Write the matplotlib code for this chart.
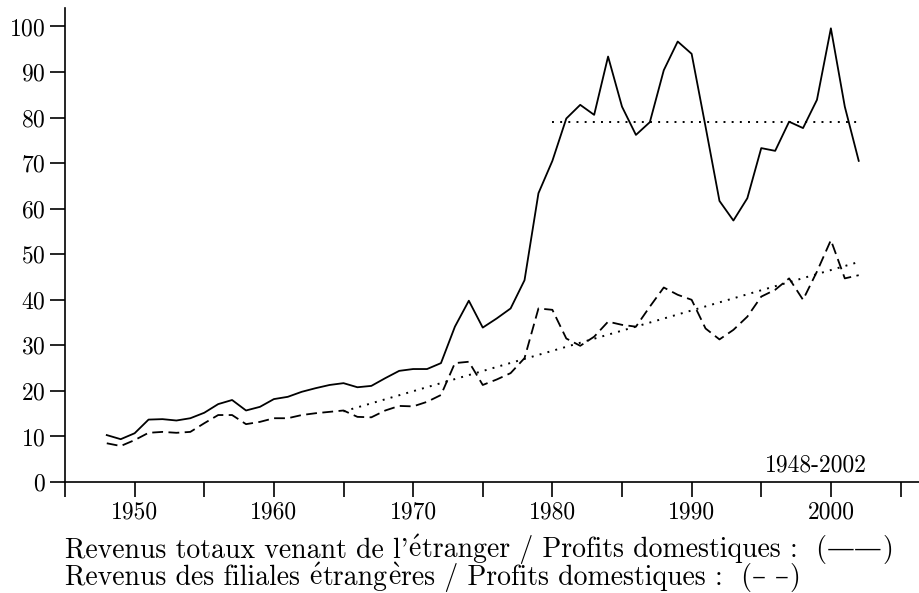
import matplotlib
matplotlib.use("Agg")
import matplotlib.pyplot as plt
import numpy as np

years = np.arange(1948, 2003)

# Revenus totaux venant de l'etranger / Profits domestiques (%)
total = [10.3, 9.4, 10.7, 13.7, 13.8, 13.5, 14.0, 15.2, 17.1, 18.0,
         15.7, 16.5, 18.2, 18.7, 19.8, 20.6, 21.3, 21.7, 20.8, 21.1,
         22.8, 24.4, 24.8, 24.8, 26.1, 34.1, 39.8, 33.9, 35.9, 38.1,
         44.3, 63.4, 70.5, 79.8, 82.8, 80.6, 93.4, 82.4, 76.2, 79.0,
         90.4, 96.7, 94.0, 78.0, 61.7, 57.4, 62.3, 73.3, 72.7, 79.1,
         77.7, 83.9, 99.6, 82.4, 70.5]

# Revenus des filiales etrangeres / Profits domestiques (%)
affiliates = [8.5, 7.9, 9.2, 10.8, 11.0, 10.8, 11.0, 12.9, 14.7, 14.7,
              12.7, 13.2, 14.0, 14.0, 14.7, 15.1, 15.4, 15.7, 14.3, 14.2,
              15.7, 16.7, 16.6, 17.6, 19.1, 26.1, 26.4, 21.3, 22.5, 23.9,
              27.2, 38.1, 37.8, 31.5, 29.9, 31.9, 35.2, 34.5, 34.1, 38.5,
              42.7, 41.1, 40.0, 33.7, 31.3, 33.4, 36.3, 40.7, 42.2, 44.7,
              40.0, 46.2, 53.1, 44.7, 45.4]

# reference lines
mean_years = [1980, 2002]
mean_level = [79.1, 79.1]
trend_years = [1965, 2002]
trend_level = [15.5, 48.3]

xticks = np.arange(1945, 2006, 5)
xlabels = [str(y) if y % 10 == 0 else "" for y in xticks]
yticks = np.arange(0, 101, 10)

plt.rcParams["font.family"] = ["cmr10", "DejaVu Serif"]
plt.rcParams["mathtext.fontset"] = "cm"
plt.rcParams["axes.formatter.use_mathtext"] = True

E_ACUTE = r"$\mathrm{\acute{e}}$"
E_GRAVE = r"$\mathrm{\grave{e}}$"

# caption pieces: (text, family)
line1 = [("Revenus totaux venant de l'", "cmr10"), (E_ACUTE, "cmr10"),
         ("tranger / Profits domestiques :  (", "cmr10"),
         ("\u2014\u2014", "DejaVu Serif"), (")", "cmr10")]
line2 = [("Revenus des filiales ", "cmr10"), (E_ACUTE, "cmr10"),
         ("trang", "cmr10"), (E_GRAVE, "cmr10"),
         ("res / Profits domestiques :  (", "cmr10"),
         ("\u2013 \u2013", "DejaVu Serif"), (")", "cmr10")]

fig = plt.figure(figsize=(9.2, 5.93), dpi=100)
ax = fig.add_axes([65 / 920, 1 - 482 / 593, 1 - 65 / 920, 474 / 593])

ax.plot(years, total, color="black", lw=1.3)
ax.plot(years, affiliates, color="black", lw=1.3, dashes=(6, 3))
ax.plot(mean_years, mean_level, color="black", lw=1.4, dashes=(1, 3.2))
ax.plot(trend_years, trend_level, color="black", lw=1.4, dashes=(1, 3.2))

ax.set_xlim(1945, 2006.4)
ax.set_ylim(0, 104.06)
ax.set_xticks(xticks)
ax.set_xticklabels(xlabels)
ax.set_yticks(yticks)

for s in ["top", "right"]:
    ax.spines[s].set_visible(False)
for s in ["left", "bottom"]:
    ax.spines[s].set_linewidth(1.2)
ax.tick_params(axis="both", direction="out", length=11, width=1.2,
               labelsize=17, pad=3)

ax.text(2002.6, 1.2, "1948-2002", fontsize=17, ha="right", va="bottom")


def caption(pieces, y_px, size=20):
    renderer = fig.canvas.get_renderer()
    x = 65.0
    for txt, fam in pieces:
        t = fig.text(x / 920, 1 - y_px / 593, txt, fontsize=size, family=fam,
                     ha="left", va="baseline")
        bb = t.get_window_extent(renderer)
        x += bb.width


caption(line1, 557)
caption(line2, 585)

fig.savefig("out.png", dpi=100)
